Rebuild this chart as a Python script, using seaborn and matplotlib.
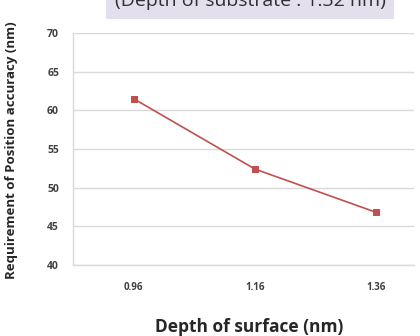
import matplotlib
matplotlib.use("Agg")
import matplotlib.pyplot as plt
import seaborn as sns
import pandas as pd

depth_labels = ["0.96", "1.16", "1.36"]
accuracy = [61.5, 52.4, 46.8]
y_ticks = [40, 45, 50, 55, 60, 65, 70]

sns.set_style("white")
plt.rcParams['font.family'] = ['Open Sans', 'DejaVu Sans']

df = pd.DataFrame({"pos": range(len(depth_labels)), "acc": accuracy})

fig = plt.figure(figsize=(4.2, 3.36), dpi=100)
ax = fig.add_axes([73 / 420, 1 - 265 / 336, (414 - 73) / 420, (265 - 33) / 336])

sns.lineplot(data=df, x="pos", y="acc", ax=ax, color="#C0504D", linewidth=1.2,
             marker="s", markersize=5, markeredgecolor="#C0504D")

ax.set_ylim(40, 70)
ax.set_xlim(-0.5, 2.31)
ax.set_yticks(y_ticks)
ax.set_yticklabels([str(t) for t in y_ticks], fontsize=7.5, fontweight='bold', color='#404040')
ax.set_xticks(range(len(depth_labels)))
ax.set_xticklabels(depth_labels, fontsize=7, fontweight='bold', color='#404040')
ax.grid(axis='y', color='#D9D9D9', linewidth=1)
ax.set_axisbelow(True)
for s in ['top', 'right']:
    ax.spines[s].set_visible(False)
for s in ['left', 'bottom']:
    ax.spines[s].set_color('#D9D9D9')
    ax.spines[s].set_linewidth(1)
ax.tick_params(axis='y', length=4, color='#D9D9D9', pad=6)
ax.tick_params(axis='x', length=0, pad=12)

ax.set_xlabel("Depth of surface (nm)", fontsize=12.5, fontweight='bold')
ax.set_ylabel("Requirement of Position accuracy (nm)", fontsize=9.5, fontweight='bold')
ax.xaxis.set_label_coords((249 - 73) / (414 - 73), -(318 - 265) / 232)
ax.yaxis.set_label_coords(-(73 - 18) / (414 - 73), (265 - 150) / 232)

fig.text(250 / 420, 1 - 1 / 336, "(Depth of substrate : 1.32 nm)", ha='center', va='center',
         fontsize=14, color='#303030',
         bbox=dict(boxstyle='square,pad=0.45', facecolor='#E4DFEC', edgecolor='none'))

fig.savefig("out.png", dpi=100)
